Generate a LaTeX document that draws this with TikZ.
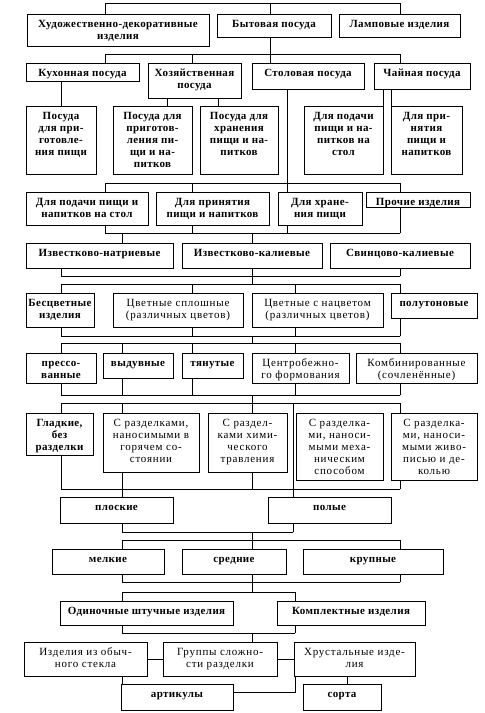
\documentclass[tikz,border=0pt]{standalone}
\usepackage{fontspec}
\setmainfont{Liberation Serif}
\newfontfamily\myB{Liberation Serif}[LetterSpace=3.5]
\newfontfamily\myR{Liberation Serif}[LetterSpace=7]
\newcommand\FB{\myB\bfseries}
\newcommand\FR{\myR}
\tikzset{box/.style={draw, line width=0.8pt, inner sep=0pt, outer sep=0pt, font=\fontsize{11}{12}\selectfont}}
% box: [font] name x1 y1 x2 y2 text
\newcommand\Bx[7][\FB]{%
  \node[box] (#2) at ({(#3+#5)/2},{(#4+#6)/2})
   {\parbox[c][\dimexpr#6pt-#4pt\relax][t]{\dimexpr#5pt-#3pt\relax}{#1\centering\rule{0pt}{13.5pt}#7\par}};}
% bus: name x1 x2 y
\newcommand\bus[4]{\path (#2,#4) coordinate (#1) (#3,#4) coordinate (#1e); \draw (#1) -- (#1e);}
% vertical connector at x between two named points
\newcommand\vc[3]{\path (#1,0) coordinate (vX); \draw (vX |- #2) -- (vX |- #3);}
\begin{document}
\begin{tikzpicture}[x=1pt,y=-1pt,line width=0.8pt,line cap=rect]
\useasboundingbox (0,0) rectangle (485,713);
% level 0
\Bx{a1}{27}{14}{209}{46}{Художественно-декоративные\\изделия}
\Bx{a2}{217}{14}{331}{37}{Бытовая посуда}
\Bx{a3}{339}{14}{460}{37}{Ламповые изделия}
\bus{B0}{105}{400}{3}
\vc{105}{B0}{a1.north}\vc{270}{B0}{a2.north}\vc{400}{B0}{a3.north}
% level 1
\Bx{b1}{26}{63}{139}{81}{Кухонная посуда}
\Bx{b2}{148}{63}{241}{98}{Хозяйственная\\посуда}
\Bx{b3}{252}{63}{364}{89}{Столовая посуда}
\Bx{b4}{374}{63}{470}{89}{Чайная посуда}
\bus{B1}{105}{400}{54}
\vc{270}{a2.south}{b3.north}
\vc{105}{B1}{b1.north}\vc{192}{B1}{b2.north}\vc{400}{B1}{b4.north}
% level 2
\Bx{c1}{26}{106}{96}{174}{Посуда\\для при-\\готовле-\\ния пищи}
\Bx{c2}{113}{106}{192}{174}{Посуда для\\приготов-\\ления пи-\\щи и на-\\питков}
\Bx{c3}{200}{106}{278}{174}{Посуда для\\хранения\\пищи и на-\\питков}
\Bx{c4}{304}{106}{383}{174}{Для подачи\\пищи и на-\\питков на\\стол}
\Bx{c5}{391}{106}{462}{174}{Для при-\\нятия\\пищи и\\напитков}
\vc{61}{b1.south}{c1.north}
\vc{167}{b2.south}{c2.north}\vc{218}{b2.south}{c3.north}
\vc{383}{b4.south}{c4.north}\vc{391}{b4.south}{c5.north}
% level 3
\Bx{d1}{26}{192}{148}{225}{Для подачи пищи и\\напитков на стол}
\Bx{d2}{156}{192}{269}{225}{Для принятия\\пищи и напитков}
\Bx{d3}{278}{192}{362}{225}{Для хране-\\ния пищи}
\Bx{d4}{366}{192}{470}{207}{Прочие изделия}
\vc{287}{b3.south}{d3.north}
\bus{B3}{105}{400}{183}
\vc{105}{B3}{d1.north}\vc{192}{B3}{d2.north}\vc{400}{B3}{d4.north}
\bus{B4}{105}{400}{233}
\vc{105}{d1.south}{B4}\vc{192}{d2.south}{B4}\vc{287}{d3.south}{B4}\vc{400}{d4.south}{B4}
% level 4
\Bx{e1}{26}{243}{173}{268}{Известково-натриевые}
\Bx{e2}{182}{243}{322}{268}{Известково-калиевые}
\Bx{e3}{330}{243}{470}{268}{Свинцово-калиевые}
\vc{122}{B4}{e1.north}\vc{252}{B4}{e2.north}
\bus{B5}{61}{400}{276}
\vc{61}{e1.south}{B5}\vc{252}{e2.south}{B5}\vc{400}{e3.south}{B5}
% level 5
\Bx{f1}{26}{293}{94}{327}{Бесцветные\\изделия}
\Bx[\FR]{f2}{113}{293}{243}{327}{Цветные сплошные\\(различных цветов)}
\Bx[\FR]{f3}{252}{293}{383}{327}{Цветные с нацветом\\(различных цветов)}
\Bx{f4}{391}{293}{477}{318}{полутоновые}
\bus{B6}{61}{400}{284}
\vc{252}{B5}{B6}
\vc{61}{B6}{f1.north}\vc{192}{B6}{f2.north}\vc{295}{B6}{f3.north}\vc{400}{B6}{f4.north}
\bus{B7}{61}{400}{336}
\vc{61}{f1.south}{B7}\vc{192}{f2.south}{B7}\vc{295}{f3.south}{B7}\vc{400}{f4.south}{B7}
% level 6
\Bx{g1}{26}{353}{96}{383}{прессо-\\ванные}
\Bx{g2}{103}{353}{173}{378}{выдувные}
\Bx{g3}{182}{353}{243}{378}{тянутые}
\Bx[\FR]{g4}{252}{353}{349}{383}{Центробежно-\\го формования}
\Bx[\FR]{g5}{356}{353}{477}{383}{Комбинированные\\(сочленённые)}
\bus{B8}{61}{400}{343}
\vc{252}{B7}{B8}
\vc{61}{B8}{g1.north}\vc{122}{B8}{g2.north}\vc{192}{B8}{g3.north}\vc{295}{B8}{g4.north}\vc{400}{B8}{g5.north}
\bus{B9}{61}{400}{395}
\vc{61}{g1.south}{B9}\vc{122}{g2.south}{B9}\vc{192}{g3.south}{B9}\vc{295}{g4.south}{B9}\vc{400}{g5.south}{B9}
% level 7
\Bx{h1}{26}{413}{93}{455}{Гладкие,\\без\\разделки}
\Bx[\FR]{h2}{103}{413}{199}{472}{С разделками,\\наносимыми в\\горячем со-\\стоянии}
\Bx[\FR]{h3}{208}{413}{287}{472}{С раздел-\\ками хими-\\ческого\\травления}
\Bx[\FR]{h4}{296}{413}{383}{480}{С разделка-\\ми, наноси-\\мыми меха-\\ническим\\способом}
\Bx[\FR]{h5}{391}{413}{477}{480}{С разделка-\\ми, наноси-\\мыми живо-\\писью и де-\\колью}
\bus{B10}{61}{400}{403}
\vc{252}{B9}{B10}
\vc{61}{B10}{h1.north}\vc{122}{B10}{h2.north}\vc{252}{B10}{h3.north}\vc{400}{B10}{h5.north}
\bus{B11}{61}{400}{489}
\vc{61}{h1.south}{B11}\vc{122}{h2.south}{B11}\vc{252}{h3.south}{B11}\vc{400}{h5.south}{B11}
% level 8
\Bx{i1}{60}{497}{173}{523}{плоские}
\Bx{i2}{268}{497}{391}{523}{полые}
\vc{293}{B10}{i2.north}
\vc{122}{B11}{i1.north}
\bus{B12}{122}{293}{532}
\vc{122}{i1.south}{B12}\vc{293}{i2.south}{B12}
% level 9
\Bx{j1}{52}{549}{164}{574}{мелкие}
\Bx{j2}{182}{549}{286}{574}{средние}
\Bx{j3}{303}{549}{443}{574}{крупные}
\bus{B13}{122}{400}{540}
\vc{252}{B12}{B13}
\vc{122}{B13}{j1.north}\vc{252}{B13}{j2.north}\vc{400}{B13}{j3.north}
\bus{B14}{122}{400}{582}
\vc{122}{j1.south}{B14}\vc{252}{j2.south}{B14}\vc{400}{j3.south}{B14}
% level 10
\Bx{k1}{60}{601}{233}{625}{Одиночные штучные изделия}
\Bx{k2}{277}{601}{425}{625}{Комплектные изделия}
\bus{B15}{122}{295}{592}
\vc{252}{B14}{B15}
\vc{122}{B15}{k1.north}\vc{295}{B15}{k2.north}
\bus{B16}{122}{295}{633}
\vc{122}{k1.south}{B16}\vc{295}{k2.south}{B16}
% level 11
\Bx[\FR]{m1}{24}{642}{147}{676}{Изделия из обыч-\\ного стекла}
\Bx[\FR]{m2}{163}{642}{277}{676}{Группы сложно-\\сти разделки}
\Bx[\FR]{m3}{294}{642}{415}{676}{Хрустальные изде-\\лия}
\vc{252}{B16}{m2.north}
\draw (m1.east) -- (m2.west);
\draw (m2.east) -- (m3.west);
% level 12
\Bx{n1}{121}{684}{233}{710}{артикулы}
\Bx{n2}{303}{684}{381}{710}{сорта}
\vc{122}{m1.south}{n1.north}
\vc{347}{m3.south}{n2.north}
\path (295,692) coordinate (hk);
\draw (hk |- m3.south) -- (hk) -- (hk -| n1.east);
\end{tikzpicture}
\end{document}
